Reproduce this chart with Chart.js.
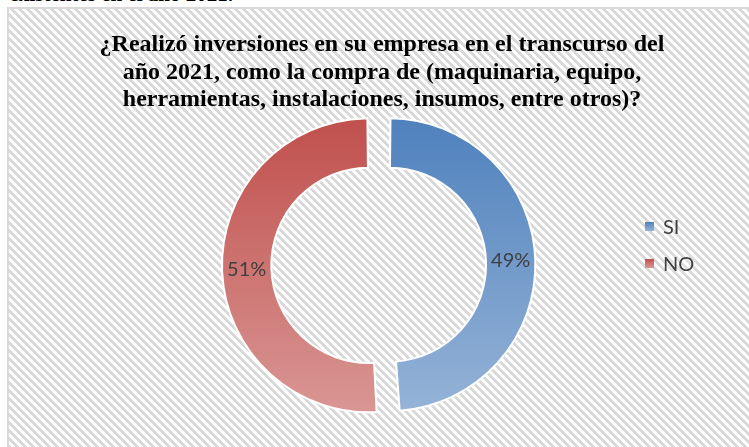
<!DOCTYPE html>
<html><head><meta charset="utf-8">
<script src="https://cdn.jsdelivr.net/npm/chart.js@4.4.1/dist/chart.umd.min.js"></script>
<style>
html,body{margin:0;padding:0;width:749px;height:447px;overflow:hidden;background:#fff;}
#box{position:absolute;left:7px;top:7px;width:760px;height:460px;border:2px solid #d9d9d9;
background:repeating-linear-gradient(45deg,#ffffff 0px,#ffffff 2.83px,#d9d9d9 2.83px,#d9d9d9 5.66px);}
#cut{position:absolute;left:-400px;width:633px;text-align:right;top:-16px;font:bold 21px "Liberation Serif";line-height:21px;white-space:nowrap;color:#000;}
canvas{position:absolute;left:0;top:0;}
</style></head><body>
<div id="cut">existentes en el año 2021.</div>
<div id="box"></div>
<canvas id="c" width="749" height="447"></canvas>
<script>
const titleLines = [
  '¿Realizó inversiones en su empresa en el transcurso del',
  'año 2021, como la compra de (maquinaria, equipo,',
  'herramientas, instalaciones, insumos, entre otros)?'
];
const categories = ['SI', 'NO'];
const values = [49, 51];
const topColors = ['#4f81bd', '#c0504d'];
const bottomColors = ['#95b3d7', '#d99694'];

const OFFSET = 40;      // chart.js draws offset/4 shift
const RADIUS = 137;

function grad(c, y0, y1, i) {
  const g = c.createLinearGradient(0, y0, 0, y1);
  g.addColorStop(0, topColors[i]);
  g.addColorStop(1, bottomColors[i]);
  return g;
}

const decor = {
  id: 'decor',
  afterDatasetsDraw(chart) {
    const c = chart.ctx;
    const meta = chart.getDatasetMeta(0);
    c.save();
    c.font = '20px Lato';
    c.fillStyle = '#404040';
    c.textAlign = 'center';
    c.textBaseline = 'middle';
    meta.data.forEach((arc, i) => {
      const p = arc.getProps(['x','y','startAngle','endAngle','innerRadius','outerRadius'], true);
      const half = (p.startAngle + p.endAngle) / 2;
      const circ = p.endAngle - p.startAngle;
      const off = OFFSET / 4;
      const fix = 1 - Math.sin(Math.min(Math.PI, circ));
      const r = (p.innerRadius + p.outerRadius) / 2 + off * fix + off;
      c.fillText(values[i] + '%', p.x + Math.cos(half) * r, p.y + Math.sin(half) * r);
    });
    c.restore();

    c.save();
    c.font = 'bold 24px "Liberation Serif"';
    c.fillStyle = '#000';
    c.textAlign = 'center';
    c.textBaseline = 'alphabetic';
    titleLines.forEach((t, i) => c.fillText(t, 382, 51 + i * 27.5));
    c.restore();

    c.save();
    c.font = '20px Lato';
    c.textBaseline = 'alphabetic';
    c.textAlign = 'left';
    categories.forEach((lab, i) => {
      const y = 222 + i * 37;
      c.fillStyle = grad(c, y, y + 9, i);
      c.fillRect(645, y, 9, 9);
      c.shadowColor = 'rgba(255,255,255,0.9)';
      c.shadowBlur = 6;
      c.fillStyle = '#404040';
      c.fillText(lab, 663, 234 + i * 37);
      c.shadowBlur = 0;
    });
    c.restore();
  }
};

new Chart(document.getElementById('c'), {
  type: 'doughnut',
  data: {
    labels: categories,
    datasets: [{
      data: values,
      backgroundColor: (ctx) => {
        const ch = ctx.chart, ca = ch.chartArea;
        if (!ca) return topColors[ctx.dataIndex];
        const cy = (ca.top + ca.bottom) / 2;
        return grad(ch.ctx, cy - 146, cy + 146, ctx.dataIndex);
      },
      borderColor: '#ffffff',
      borderWidth: 2,
      offset: OFFSET,
      hoverOffset: OFFSET
    }]
  },
  options: {
    responsive: false,
    animation: false,
    events: [],
    radius: RADIUS,
    cutout: '64%',
    layout: { padding: { left: 100, right: 91, top: 110, bottom: 27 } },
    plugins: { legend: { display: false }, title: { display: false }, tooltip: { enabled: false } }
  },
  plugins: [decor]
});
</script>
</body></html>
